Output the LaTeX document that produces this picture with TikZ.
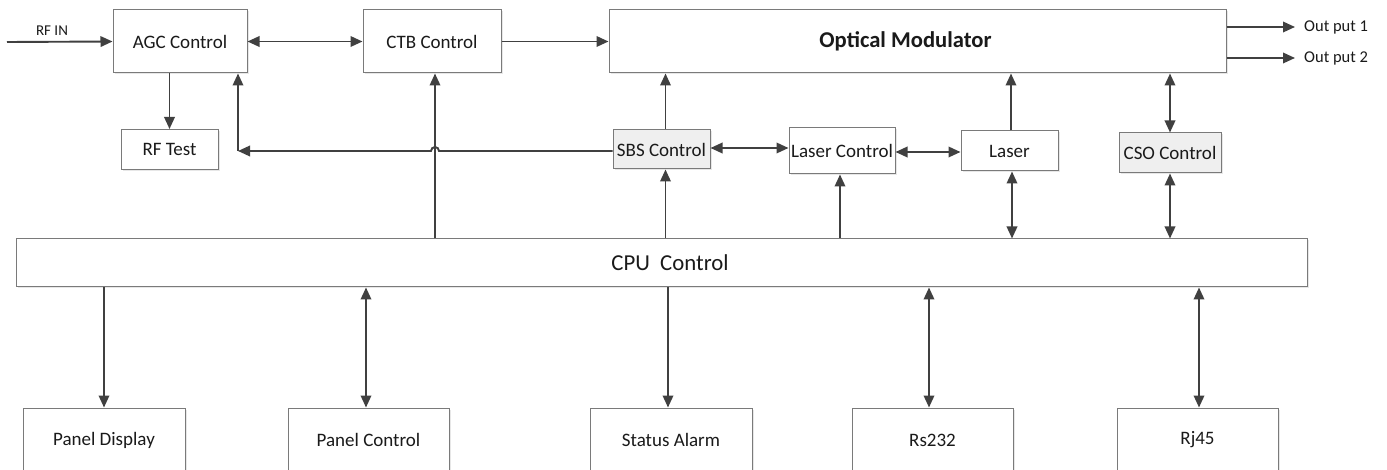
\documentclass[tikz,border=0pt]{standalone}
\usepackage{fontspec}
\setmainfont{Carlito}
\usetikzlibrary{arrows.meta,shadows}
\definecolor{ln}{HTML}{404040}
\definecolor{bd}{HTML}{7A7A7A}
\definecolor{gf}{HTML}{EFEFEF}
\definecolor{tx}{HTML}{1A1A1A}
\begin{document}
\begin{tikzpicture}[x=1pt,y=-1pt,
  box/.style={draw=bd, line width=1pt, fill=white, inner sep=0pt, text=tx,
    font=\fontsize{19}{22}\selectfont,
    drop shadow={shadow xshift=1.5pt,shadow yshift=-1.5pt,fill=black!18}},
  gbox/.style={box, fill=gf},
  tipa/.tip={Triangle[length=12pt,width=10.5pt]},
  arr/.style={draw=ln, line width=1.9pt, -tipa},
  darr/.style={draw=ln, line width=1.9pt, tipa-tipa},
  lab/.style={inner sep=0pt, text=tx}]
\useasboundingbox (0,0) rectangle (1387,470);
\path[clip] (0,0) rectangle (1387,470);
\fill[white] (0,0) rectangle (1387,470);

% top row
\node[box, minimum width=134, minimum height=63] (agc) at (180,41.5) {AGC Control};
\node[box, minimum width=138, minimum height=63] (ctb) at (432,41.5) {CTB Control};
\node[box, minimum width=617, minimum height=63] (om) at (917.5,41.5)
  {\hspace*{-24pt}\fontsize{22.6}{26}\selectfont\bfseries Optical Modulator};
% middle row
\node[box, minimum width=97, minimum height=40] (rftest) at (169.5,149.5) {RF Test};
\node[gbox, minimum width=97, minimum height=39] (sbs) at (661.5,149.5) {SBS Control};
\node[box, minimum width=106, minimum height=46] (lc) at (842,151) {Laser Control};
\node[box, minimum width=97, minimum height=40] (laser) at (1009.5,151) {Laser};
\node[gbox, minimum width=102, minimum height=40] (cso) at (1170,153) {CSO Control};
% CPU
\node[box, minimum width=1291, minimum height=48] (cpu) at (661.5,263)
  {\hspace*{17pt}\fontsize{22.8}{26}\selectfont CPU\ \ Control};
% bottom row
\node[box, minimum width=162, minimum height=64] (pd) at (104,440) {Panel Display};
\node[box, minimum width=161, minimum height=64] (pc) at (368.5,440) {Panel Control};
\node[box, minimum width=162, minimum height=64] (sa) at (671,440) {Status Alarm};
\node[box, minimum width=161, minimum height=64] (rs) at (932.5,440) {Rs232};
\node[box, minimum width=161, minimum height=64] (rj) at (1197.5,440) {Rj45};

% labels
\coordinate (rfin) at (7,42);
\node[lab, font=\fontsize{15}{17}\selectfont] (rfinlab) at (52,31) {RF IN};
\coordinate (o1) at (1295,27);
\coordinate (o2) at (1295,58);
\node[lab, anchor=west, font=\fontsize{16.5}{19}\selectfont] (o1lab) at (1304,27) {Out put 1};
\node[lab, anchor=west, font=\fontsize{16.5}{19}\selectfont] (o2lab) at (1304,58) {Out put 2};

% connectors top
\draw[arr] (rfin) -- (agc.west);
\draw[darr] (agc.east) -- (ctb.west);
\draw[arr] (ctb.east) -- (om.west);
\draw[arr] (o1 -| om.east) -- (o1);
\draw[arr] (o2 -| om.east) -- (o2);
\draw[arr] (rftest.north |- agc.south) -- (rftest.north);

% feedback SBS -> AGC with hop over CTB line
\coordinate (fb) at (238,151);
\draw[arr] (sbs.west |- fb) -- (439,151) arc[start angle=0,end angle=180,radius=4pt] -- (fb);
\draw[arr] (fb) -- (fb |- agc.south);
\draw[arr] ([xshift=3pt]ctb.south |- cpu.north) -- ([xshift=3pt]ctb.south);

% middle connectors
\draw[arr] ([xshift=4pt]sbs.north) -- ([xshift=4pt]sbs.north |- om.south);
\draw[arr] ([xshift=4pt]sbs.south |- cpu.north) -- ([xshift=4pt]sbs.south);
\draw[darr] ([yshift=1.5pt]sbs.east) -- ([yshift=1.5pt]sbs.east -| lc.west);
\draw[arr] ([xshift=-2pt]lc.south |- cpu.north) -- ([xshift=-2pt]lc.south);
\draw[darr] ([yshift=-1pt]lc.east) -- ([yshift=-1pt]lc.east -| laser.west);
\draw[arr] ([xshift=1.5pt]laser.north) -- ([xshift=1.5pt]laser.north |- om.south);
\draw[darr] ([xshift=2.5pt]laser.south) -- ([xshift=2.5pt]laser.south |- cpu.north);
\draw[darr] (cso.north) -- (cso.north |- om.south);
\draw[darr] (cso.south) -- (cso.south |- cpu.north);

% bottom connectors
\draw[arr] (pd.north |- cpu.south) -- (pd.north);
\draw[darr] ([xshift=-2.5pt]pc.north |- cpu.south) -- ([xshift=-2.5pt]pc.north);
\draw[arr] ([xshift=-3pt]sa.north |- cpu.south) -- ([xshift=-3pt]sa.north);
\draw[darr] ([xshift=-3.5pt]rs.north |- cpu.south) -- ([xshift=-3.5pt]rs.north);
\draw[darr] ([xshift=1.5pt]rj.north |- cpu.south) -- ([xshift=1.5pt]rj.north);
\end{tikzpicture}
\end{document}
